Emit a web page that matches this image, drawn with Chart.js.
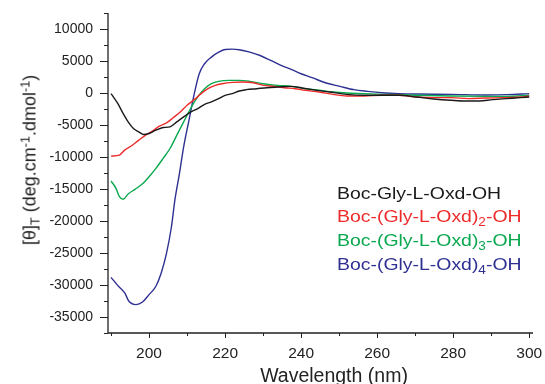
<!DOCTYPE html>
<html>
<head>
<meta charset="utf-8">
<script src="https://cdn.jsdelivr.net/npm/chart.js@4"></script>
<style>
  html, body { margin: 0; padding: 0; background: #fff; }
  #wrap { position: relative; width: 545px; height: 384px; overflow: hidden; font-family: "Liberation Sans", Arial, sans-serif; }
  #cd { position: absolute; left: 0; top: 0; }
  .ytitle { position: absolute; left: 30px; top: 160px; transform: translate(-50%, -50%) rotate(-90deg); white-space: nowrap; font-size: 18px; color: #222; }
  .xtitle { position: absolute; left: 334px; top: 364px; transform: translateX(-50%); white-space: nowrap; font-size: 19.5px; color: #222; }
  .legend { position: absolute; left: 337px; top: 181.5px; font-size: 17.2px; line-height: 23.7px; white-space: nowrap; transform: scaleX(1.13); transform-origin: 0 0; }
  .legend sub, .ytitle sub { font-size: 70%; vertical-align: -0.35em; line-height: 0; }
  .ytitle sup { font-size: 70%; vertical-align: 0.45em; line-height: 0; }
</style>
</head>
<body>
<div id="wrap">
  <canvas id="cd" width="545" height="384"></canvas>
  <div class="ytitle">[θ]<sub>T</sub> (deg.cm<sup>-1</sup>.dmol<sup>-1</sup>)</div>
  <div class="xtitle">Wavelength (nm)</div>
  <div class="legend" id="legend"></div>
</div>
<script>
// Données (longueur d'onde en nm, ellipticité)
const seriesNames = ['Boc-Gly-L-Oxd-OH', 'Boc-(Gly-L-Oxd)<sub>2</sub>-OH', 'Boc-(Gly-L-Oxd)<sub>3</sub>-OH', 'Boc-(Gly-L-Oxd)<sub>4</sub>-OH'];
const seriesColors = ['#1a1a1a', '#ee2b2b', '#0aa84f', '#2e3192'];

const wl1 = [190, 191.8, 193.2, 194.5, 195.9, 197.3, 198.6, 200, 201.8, 203.7, 205.5, 207.3, 209.1, 211, 212.8, 214.6, 216.4, 218.3, 220, 221.9, 223.7, 225.6, 228.3, 231, 233.8, 237.4, 240, 242.9, 247.5, 252, 256.6, 261.2, 265.8, 270.3, 274.9, 279.5, 283.1, 286.8, 290.4, 294.1, 297.7, 300];
const th1 = [-100, -1660, -3220, -4500, -5550, -6070, -6490, -6330, -5810, -5400, -5290, -4520, -3740, -2960, -2440, -1760, -1400, -880, -360, -100, 310, 520, 670, 830, 930, 1040, 830, 520, 160, -210, -360, -360, -360, -620, -930, -1140, -1250, -1250, -1040, -880, -730, -620];

const wl2 = [190, 192.2, 193.6, 195.4, 197.3, 199.1, 200.9, 202.7, 204.6, 206.4, 208.2, 210, 211.9, 213.7, 215.5, 217.4, 219.2, 221.9, 224.7, 227.4, 230.1, 232.9, 235.6, 238.4, 241.1, 244.7, 248.4, 252, 256.6, 261.2, 265.8, 270.3, 274.9, 279.5, 284, 288.6, 293.2, 297.7, 300];
const th2 = [-9860, -9700, -8930, -8250, -7370, -6590, -5970, -5190, -4670, -3840, -2960, -1920, -1040, -100, 670, 1190, 1450, 1660, 1710, 1610, 1190, 1040, 830, 670, 420, 160, -210, -470, -470, -360, -360, -620, -730, -730, -880, -780, -730, -620, -470];

const wl3 = [190, 191.3, 192.2, 193.2, 194.5, 196.3, 198.2, 200, 201.8, 203.7, 205.5, 207.3, 209.1, 211, 212.8, 214.6, 216.4, 218.3, 221, 223.7, 226.5, 230.1, 233.8, 237.4, 241.1, 244.7, 248.4, 252, 256.6, 261.2, 265.8, 270.3, 279.5, 288.6, 294.1, 300];
const th3 = [-13750, -14900, -16190, -16600, -15780, -15050, -14220, -13080, -11780, -10220, -8670, -6590, -4520, -2340, -620, 670, 1450, 1820, 1970, 1970, 1820, 1450, 1190, 1040, 670, 420, 160, 0, -100, -210, -260, -360, -470, -520, -520, -360];

const wl4 = [190, 191.8, 193.6, 194.7, 196.6, 198.2, 200, 201.8, 203.2, 204.6, 205.9, 206.8, 208, 209.1, 210.5, 211.9, 213.2, 214.6, 216.4, 218.3, 220, 221.9, 223.7, 226.5, 229.2, 232, 234.7, 237.4, 240, 242.9, 246.6, 250.2, 253.9, 257.5, 261.2, 265.8, 270.3, 279.5, 288.6, 294.1, 300];
const th4 = [-28800, -30100, -31240, -32540, -33060, -32700, -31500, -30200, -28130, -25020, -20860, -16710, -12560, -8410, -4260, -100, 3010, 4570, 5610, 6380, 6800, 6850, 6750, 6380, 5860, 5090, 4310, 3680, 3010, 2390, 1560, 1040, 520, 260, 50, -100, -160, -210, -310, -260, -100];

const xTicks = [200, 220, 240, 260, 280, 300];
const yTicks = [-35000, -30000, -25000, -20000, -15000, -10000, -5000, 0, 5000, 10000];

const allWl = [wl1, wl2, wl3, wl4];
const allTh = [th1, th2, th3, th4];

// Axes et graduations (majeures + mineures) dessinées via les échelles
const axisTicks = {
    id: 'axisTicks',
    afterDraw(chart) {
        const c = chart.ctx;
        const xs = chart.scales.x, ys = chart.scales.y;
        const area = chart.chartArea;
        c.save();
        c.strokeStyle = '#222';
        c.lineWidth = 1.3;
        c.beginPath();
        c.moveTo(area.left, area.top);
        c.lineTo(area.left, area.bottom);
        c.lineTo(area.right, area.bottom);
        c.stroke();
        c.lineWidth = 1;
        c.beginPath();
        for (let v = 190; v <= xs.max; v += 10) {
            const px = Math.round(xs.getPixelForValue(v)) + 0.5;
            const len = xTicks.includes(v) ? 5 : 3;
            c.moveTo(px, area.bottom);
            c.lineTo(px, area.bottom + len);
        }
        for (let v = -37500; v <= ys.max; v += 2500) {
            const py = Math.round(ys.getPixelForValue(v)) + 0.5;
            const len = yTicks.includes(v) ? 8 : 4;
            c.moveTo(area.left, py);
            c.lineTo(area.left - len, py);
        }
        c.stroke();
        c.restore();
    }
};

const datasets = allWl.map((wl, i) => ({
    label: seriesNames[i],
    data: wl.map((w, j) => ({ x: w, y: allTh[i][j] })),
    borderColor: seriesColors[i],
    borderWidth: 1.4,
    pointRadius: 0,
    cubicInterpolationMode: 'monotone',
    fill: false
}));

new Chart(document.getElementById('cd'), {
    type: 'line',
    data: { datasets: datasets },
    options: {
        responsive: false,
        animation: false,
        layout: { padding: { top: 13, right: 12, left: 0, bottom: 0 } },
        plugins: { legend: { display: false }, tooltip: { enabled: false } },
        scales: {
            x: {
                type: 'linear',
                min: 189.2,
                max: 301,
                afterBuildTicks: s => { s.ticks = xTicks.map(v => ({ value: v })); },
                afterFit: s => { s.height = 51; s.paddingLeft = 0; s.paddingRight = 0; },
                grid: { display: false },
                border: { display: false },
                ticks: { color: '#222', font: { family: 'Liberation Sans', size: 15.5 }, padding: 3, maxRotation: 0, callback: v => String(v) }
            },
            y: {
                min: -37500,
                max: 12500,
                afterBuildTicks: s => { s.ticks = yTicks.map(v => ({ value: v })); },
                afterFit: s => { s.width = 108; s.paddingTop = 0; s.paddingBottom = 0; },
                grid: { display: false },
                border: { display: false },
                ticks: { color: '#222', font: { family: 'Liberation Sans', size: 14 }, padding: 7, callback: v => String(v) }
            }
        }
    },
    plugins: [axisTicks]
});

// Légende en texte coloré (avec indices)
const leg = document.getElementById('legend');
seriesNames.forEach((n, i) => {
    const d = document.createElement('div');
    d.style.color = seriesColors[i];
    d.innerHTML = n;
    leg.appendChild(d);
});
</script>
</body>
</html>
